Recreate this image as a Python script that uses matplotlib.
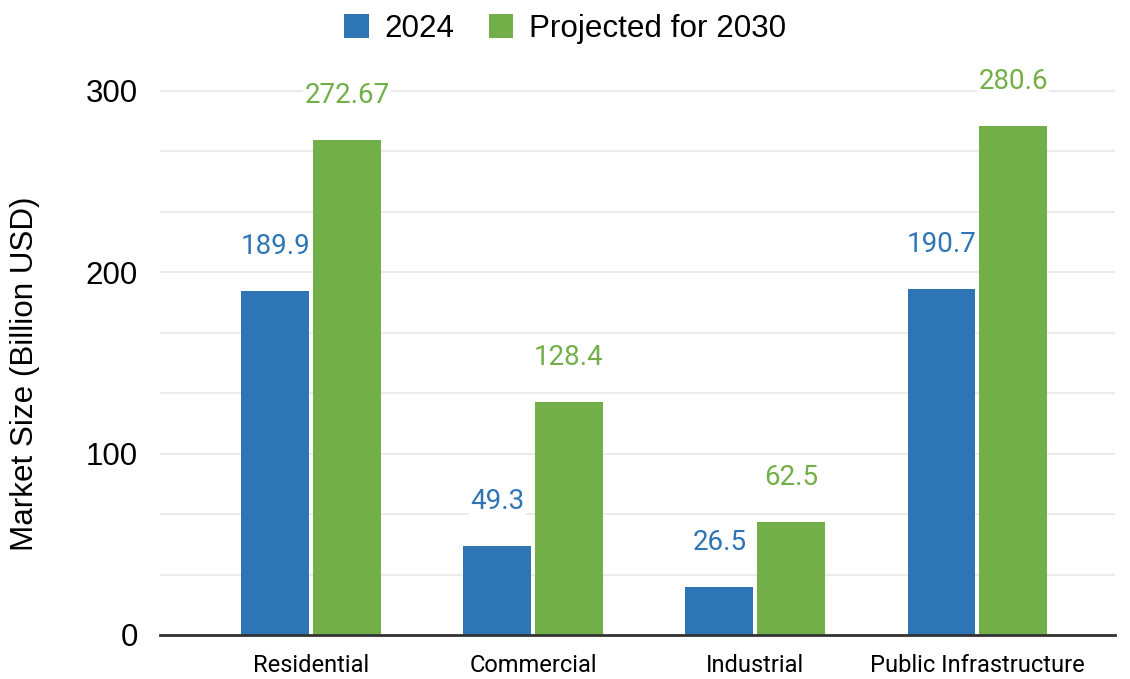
import matplotlib as mpl
mpl.use('Agg')
import matplotlib.pyplot as plt
from matplotlib.ticker import MultipleLocator
import numpy as np

categories = ['Residential', 'Commercial', 'Industrial', 'Public Infrastructure']
series_names = ['2024', 'Projected for 2030']
values_2024 = [189.9, 49.3, 26.5, 190.7]
values_2030 = [272.67, 128.4, 62.5, 280.6]
label_2024 = ['189.9', '49.3', '26.5', '190.7']
label_2030 = ['272.67', '128.4', '62.5', '280.6']
y_ticks = [0, 100, 200, 300]

blue = '#2E75B6'
green = '#72AF48'

fig = plt.figure(figsize=(11.3, 6.79), dpi=100)
ax = fig.add_axes([160 / 1130, 1 - 635 / 679, 955 / 1130, 575 / 679])

x = np.arange(len(categories))
w = 0.305
gap = 0.009
bars1 = ax.bar(x - w / 2 - gap, values_2024, width=w, color=blue,
               label=series_names[0], zorder=3)
bars2 = ax.bar(x + w / 2 + gap, values_2030, width=w, color=green,
               label=series_names[1], zorder=3)

# value labels above bars, white box hides grid line behind them
for bars, labels, col in ((bars1, label_2024, blue), (bars2, label_2030, green)):
    for b, txt in zip(bars, labels):
        ax.annotate(txt, (b.get_x() + b.get_width() / 2, b.get_height()),
                    xytext=(0, 32), textcoords='offset points',
                    ha='center', va='center', fontsize=20, color=col,
                    family='Roboto', zorder=4,
                    bbox=dict(facecolor='white', edgecolor='none', pad=1))

ax.set_xlim(-0.68, 3.62)
ax.set_ylim(0, 317)
ax.set_yticks(y_ticks)
ax.yaxis.set_minor_locator(MultipleLocator(100 / 3))
ax.grid(axis='y', which='both', color='#ebebeb', linewidth=1.5, zorder=0)
ax.set_axisbelow(True)

ax.set_xticks(x)
ax.set_xticklabels(categories, fontsize=17, family='Roboto')
for lab in ax.get_yticklabels():
    lab.set_fontsize(22.5)
    lab.set_family('Liberation Sans')
ax.tick_params(axis='both', which='both', length=0)
ax.tick_params(axis='y', pad=16)
ax.tick_params(axis='x', pad=14)

for s in ('top', 'right', 'left'):
    ax.spines[s].set_visible(False)
ax.spines['bottom'].set_color('#333333')
ax.spines['bottom'].set_linewidth(2)
ax.spines['bottom'].set_zorder(5)

ax.set_ylabel('Market Size (Billion USD)', fontsize=22.6,
              family='Liberation Sans')
ax.yaxis.label.set_va('center')
ax.yaxis.set_label_coords(-(160 - 25) / 955, (635 - 374) / 575)

fig.legend(loc='center', bbox_to_anchor=(0.5, 1 - 29 / 679), ncol=2,
           frameon=False, prop={'family': 'Liberation Sans', 'size': 22.6},
           handlelength=0.78, handleheight=0.78, handletextpad=0.5,
           columnspacing=1.1)

fig.savefig('out.png', dpi=100)
